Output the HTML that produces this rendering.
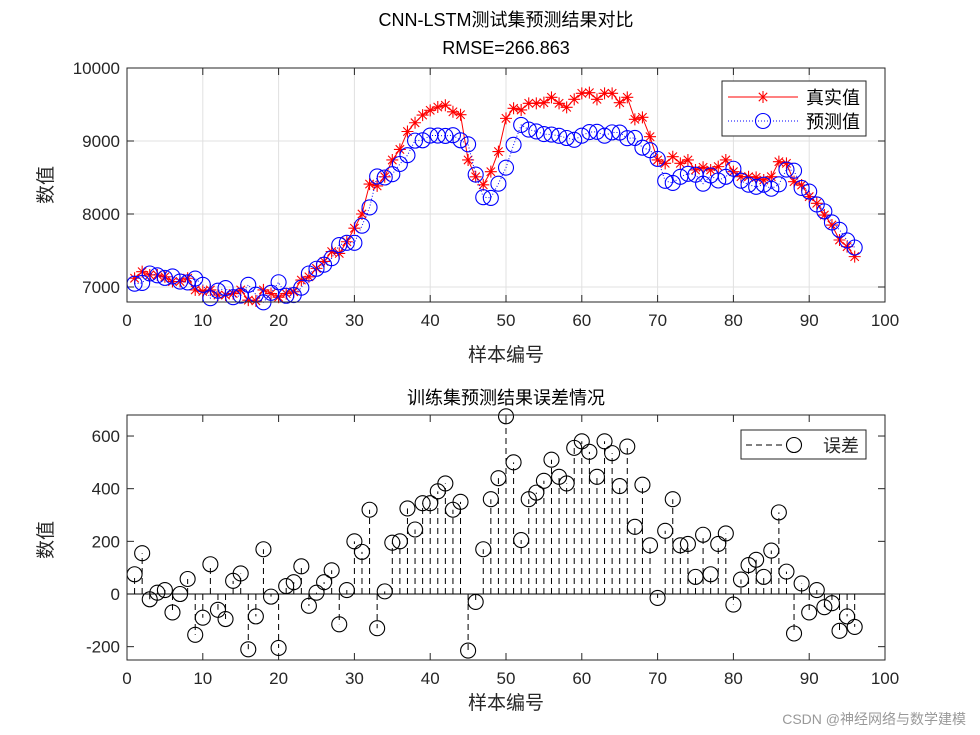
<!DOCTYPE html>
<html><head><meta charset="utf-8"><style>
html,body{margin:0;padding:0;background:#fff;}
svg{display:block;font-family:"Liberation Sans","Noto Sans CJK SC",sans-serif;}
</style></head><body>
<svg id="chart" width="980" height="735"></svg>
<script>
const indices=[];for(let i=1;i<=96;i++)indices.push(i);
const actualValues=[7120,7210,7165,7165,7140,7075,7075,7120,6960,6940,6960,6890,6890,6910,6960,6820,6810,6960,6910,6860,6910,6935,7095,7140,7255,7350,7485,7460,7620,7805,8000,8410,8385,8510,8740,8885,9130,9250,9355,9420,9465,9490,9400,9360,8740,8510,8400,8580,8855,9310,9448,9425,9516,9516,9525,9598,9516,9461,9571,9653,9662,9571,9653,9653,9525,9598,9297,9324,9059,8740,8694,8785,8694,8740,8603,8640,8603,8649,8740,8580,8511,8511,8502,8466,8511,8717,8694,8443,8397,8238,8146,7986,7849,7644,7553,7416];
const predictedValues=[7045,7055,7185,7160,7125,7145,7075,7063,7115,7030,6847,6950,6985,6860,6882,7030,6895,6790,6920,7065,6880,6890,6990,7185,7250,7305,7395,7575,7605,7605,7840,8090,8515,8500,8545,8685,8805,9005,9010,9075,9075,9070,9080,9010,8955,8540,8230,8220,8415,8635,8948,9220,9156,9131,9095,9088,9071,9041,9016,9073,9122,9126,9073,9118,9115,9038,9042,8909,8874,8755,8454,8425,8509,8550,8538,8415,8528,8459,8510,8620,8456,8401,8372,8401,8346,8407,8609,8593,8357,8308,8131,8036,7884,7784,7638,7541];
const errorValues=[75,155,-20,5,15,-70,0,57,-155,-90,113,-60,-95,50,78,-210,-85,170,-10,-205,30,45,105,-45,5,45,90,-115,15,200,160,320,-130,10,195,200,325,245,345,345,390,420,320,350,-215,-30,170,360,440,675,500,205,360,385,430,510,445,420,555,580,540,445,580,535,410,560,255,415,185,-15,240,360,185,190,65,225,75,190,230,-40,55,110,130,65,165,310,85,-150,40,-70,15,-50,-35,-140,-85,-125];
const xTicks=[0,10,20,30,40,50,60,70,80,90,100];
const yTicksTop=[7000,8000,9000,10000];
const yTicksBot=[-200,0,200,400,600];

const NS="http://www.w3.org/2000/svg";
const svg=document.getElementById('chart');
function mk(tag,attrs,parent){const e=document.createElementNS(NS,tag);for(const k in attrs)e.setAttribute(k,attrs[k]);(parent||svg).appendChild(e);return e;}
function txt(s,attrs,parent){const e=mk('text',attrs,parent);e.textContent=s;return e;}

const L=127,R=885;
const xs=v=>L+(v-0)/100*(R-L);
// top axes
const T1=68,B1=302,yTop=v=>68+(10000-v)*0.073;
// bottom axes
const T2=415,B2=660,yBot=v=>594-v*0.2633;

// titles
txt('CNN-LSTM测试集预测结果对比',{x:506,y:26,'font-size':18,'text-anchor':'middle',fill:'#000'});
txt('RMSE=266.863',{x:506,y:54,'font-size':18,'text-anchor':'middle',fill:'#000'});

function axes(top,bot,yTicks,yf,grid,name){
  const g=mk('g',{});
  
  
  mk('rect',{x:L,y:top,width:R-L,height:bot-top,fill:'#fff'},g);
  if(grid){
    xTicks.forEach(t=>mk('line',{x1:xs(t),x2:xs(t),y1:top,y2:bot,stroke:'#e0e0e0','stroke-width':1},g));
    yTicks.forEach(t=>mk('line',{x1:L,x2:R,y1:yf(t),y2:yf(t),stroke:'#e0e0e0','stroke-width':1},g));
  }
  xTicks.forEach(t=>{
    mk('line',{x1:xs(t),x2:xs(t),y1:bot,y2:bot-7,stroke:'#262626'},g);
    mk('line',{x1:xs(t),x2:xs(t),y1:top,y2:top+7,stroke:'#262626'},g);
    const lb=txt(String(t),{x:xs(t),y:bot+24,'font-size':17,'text-anchor':'middle',fill:'#262626'},g);
    
  });
  yTicks.forEach(t=>{
    mk('line',{x1:L,x2:L+7,y1:yf(t),y2:yf(t),stroke:'#262626'},g);
    mk('line',{x1:R,x2:R-7,y1:yf(t),y2:yf(t),stroke:'#262626'},g);
    const lb=txt(String(t),{x:L-7,y:yf(t)+6,'font-size':17,'text-anchor':'end',fill:'#262626'},g);
    
  });
  return g;
}
const g1=axes(T1,B1,yTicksTop,yTop,true,'top-axes');
// actual line
let d='';actualValues.forEach((v,i)=>{d+=(i?'L':'M')+xs(indices[i]).toFixed(1)+' '+yTop(v).toFixed(1);});
const al=mk('path',{d:d,fill:'none',stroke:'#ff0000','stroke-width':1});


function star(x,y,parent,c){const r=6;mk('path',{d:`M${x-r} ${y}H${x+r}M${x} ${y-r}V${y+r}M${x-r*0.7} ${y-r*0.7}L${x+r*0.7} ${y+r*0.7}M${x-r*0.7} ${y+r*0.7}L${x+r*0.7} ${y-r*0.7}`,stroke:c,'stroke-width':1.1,fill:'none'},parent);}
actualValues.forEach((v,i)=>{const g=mk('g',{});star(xs(indices[i]),yTop(v),g,'#ff0000');});
// predicted dotted
d='';predictedValues.forEach((v,i)=>{d+=(i?'L':'M')+xs(indices[i]).toFixed(1)+' '+yTop(v).toFixed(1);});
const pl=mk('path',{d:d,fill:'none',stroke:'#0000ff','stroke-width':1,'stroke-dasharray':'1 2'});


predictedValues.forEach((v,i)=>{const c=mk('circle',{cx:xs(indices[i]),cy:yTop(v),r:7.5,fill:'none',stroke:'#0000ff','stroke-width':1.1});});
mk('rect',{x:L,y:T1,width:R-L,height:B1-T1,fill:'none',stroke:'#262626','stroke-width':1});
// labels top
txt('样本编号',{x:506,y:361,'font-size':19,'text-anchor':'middle',fill:'#262626'});
txt('数值',{x:0,y:0,'font-size':19,'text-anchor':'middle',fill:'#262626',transform:'translate(52,185) rotate(-90)'});
// legend top
const lg=mk('g',{});
mk('rect',{x:722,y:81,width:144,height:55,fill:'#fff',stroke:'#262626'},lg);
mk('line',{x1:728,x2:798,y1:97,y2:97,stroke:'#ff0000'},lg);star(763,97,lg,'#ff0000');
txt('真实值',{x:806,y:104,'font-size':18,fill:'#000'},lg);
mk('line',{x1:728,x2:798,y1:121,y2:121,stroke:'#0000ff','stroke-dasharray':'1 2'},lg);
mk('circle',{cx:763,cy:121,r:7.5,fill:'none',stroke:'#0000ff','stroke-width':1.1},lg);
txt('预测值',{x:806,y:128,'font-size':18,fill:'#000'},lg);

// bottom
txt('训练集预测结果误差情况',{x:506,y:404,'font-size':18,'text-anchor':'middle',fill:'#000'});
const g2=axes(T2,B2,yTicksBot,yBot,false,'bottom-axes');
mk('line',{x1:L,x2:R,y1:yBot(0),y2:yBot(0),stroke:'#000','stroke-width':1});
errorValues.forEach((v,i)=>{
  const x=xs(indices[i]);
  const ln=mk('line',{x1:x,x2:x,y1:yBot(0),y2:yBot(v),stroke:'#000','stroke-width':1,'stroke-dasharray':'6 4'});
  
  
  const c=mk('circle',{cx:x,cy:yBot(v),r:7.5,fill:'none',stroke:'#000','stroke-width':1.1});
  
  
});
mk('rect',{x:L,y:T2,width:R-L,height:B2-T2,fill:'none',stroke:'#262626','stroke-width':1});
txt('样本编号',{x:506,y:709,'font-size':19,'text-anchor':'middle',fill:'#262626'});
txt('数值',{x:0,y:0,'font-size':19,'text-anchor':'middle',fill:'#262626',transform:'translate(52,540) rotate(-90)'});
const lg2=mk('g',{});
mk('rect',{x:741,y:430,width:125,height:29,fill:'#fff',stroke:'#262626'},lg2);
mk('line',{x1:746,x2:796,y1:445,y2:445,stroke:'#000','stroke-dasharray':'6 4'},lg2);
mk('circle',{cx:794,cy:445,r:7.5,fill:'#fff',stroke:'#000','stroke-width':1.1},lg2);
txt('误差',{x:823,y:452,'font-size':18,fill:'#262626'},lg2);

txt('CSDN @神经网络与数学建模',{x:966,y:724,'font-size':14,'text-anchor':'end',fill:'#999'});
</script>
</body></html>
